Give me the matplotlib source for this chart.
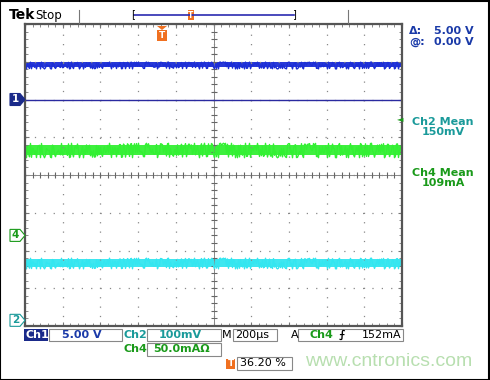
import numpy as np
import matplotlib.pyplot as plt
from matplotlib.patches import Rectangle, Polygon

# scope readings (vertical values in divisions)
channels = ['Ch1', 'Ch2', 'Ch4']
trace_colors = ['#1c2ed6', '#33f033', '#33e6f0']
trace_level = [2.92, 0.66, -2.33]
noise_half = [0.09, 0.19, 0.14]
ref_level = {'1': 2.0, '4': -1.6, '2': -3.85}
ch1_ref = 2.0

scale_labels = ['5.00 V', '100mV', '50.0mAΩ']
timebase = '200µs'
trig_level = '152mA'
trig_pos = '36.20 %'
mean_labels = ['Ch2 Mean\n150mV', 'Ch4 Mean\n109mA']

W, H = 490, 380
fig = plt.figure(figsize=(4.9, 3.8), dpi=100)
fig.patch.set_facecolor('white')


def fx(x):
    return x / W


def fy(y):
    return 1 - y / H


def ftext(x, y, s, **kw):
    kw.setdefault('fontsize', 8)
    kw.setdefault('va', 'center')
    fig.text(fx(x), fy(y), s, **kw)


def fbox(x0, y0, x1, y1, fc='none', ec='#888888', lw=0.8):
    fig.patches.append(Rectangle((fx(x0), fy(y1)), fx(x1 - x0), (y1 - y0) / H,
                                 transform=fig.transFigure, fc=fc, ec=ec, lw=lw))


# graticule
ax = fig.add_axes([fx(25), fy(326), fx(402 - 25), (326 - 24) / H])
ax.set_xlim(0, 10)
ax.set_ylim(-4, 4)
ax.set_facecolor('white')
for s in ax.spines.values():
    s.set_color('#555555')
    s.set_linewidth(1.6)
ax.set_xticks(np.arange(0, 11, 1))
ax.set_yticks(np.arange(-4, 5, 1))
ax.set_xticks(np.arange(0, 10.01, 0.2), minor=True)
ax.set_yticks(np.arange(-4, 4.01, 0.2), minor=True)
ax.tick_params(which='both', direction='in', top=True, right=True, color='#777777',
               labelbottom=False, labelleft=False)
ax.tick_params(which='major', length=3)
ax.tick_params(which='minor', length=2, width=0.6)
ax.grid(True, which='major', color='#888888', lw=0.9, ls=(0, (1, 6.5)))
ax.axhline(0, color='#888888', lw=0.7)
ax.axvline(5, color='#888888', lw=0.7)
cx = np.arange(0, 10.01, 0.2)
cy = np.arange(-4, 4.01, 0.2)
ax.plot(cx, np.zeros_like(cx), '|', color='#666666', ms=5, mew=0.8)
ax.plot(np.full_like(cy, 5), cy, '_', color='#666666', ms=5, mew=0.8)

# ch1 reference line
ax.axhline(ch1_ref, color='#2a2aa0', lw=1.0)

# traces
for col, lvl, nh in zip(trace_colors, trace_level, noise_half):
    ax.fill_between([0, 10], lvl - nh * 0.7, lvl + nh * 0.7, color=col, lw=0, alpha=0.95)
    ln, = ax.plot([0, 10], [lvl, lvl], color=col, lw=1.0)
    ln.set_sketch_params(scale=nh * 38, length=1.0, randomness=4)

# outer frame
fig.patches.append(Rectangle((0.001, 0.001), 0.997, 0.996, transform=fig.transFigure,
                             fc='none', ec='black', lw=1.5))

# top bar
ftext(9, 15, 'Tek', fontsize=10, fontweight='bold', family='DejaVu Sans')
ftext(35, 15, 'Stop', fontsize=8.5)
fig.add_artist(plt.Line2D([fx(79), fx(79)], [fy(10), fy(23)], color='#777777', lw=0.8))
fig.add_artist(plt.Line2D([fx(348), fx(348)], [fy(10), fy(23)], color='#777777', lw=0.8))
fig.add_artist(plt.Line2D([fx(134), fx(294)], [fy(15), fy(15)], color='#2a2ab0', lw=1.2))
ftext(131, 14.5, '[', fontsize=7, color='black')
ftext(292, 14.5, ']', fontsize=7, color='black')
fig.patches.append(Rectangle((fx(188), fy(20)), fx(6), 10 / H, transform=fig.transFigure,
                             fc='#f07020', ec='none'))
ftext(191, 15, 'T', fontsize=5.5, color='white', ha='center', fontweight='bold')

# trigger position marker
fig.patches.append(Polygon([(fx(157), fy(26)), (fx(167), fy(26)), (fx(162), fy(30))],
                           closed=True, transform=fig.transFigure, fc='#f07020', ec='none'))
fig.patches.append(Rectangle((fx(157), fy(41)), fx(10), 11 / H, transform=fig.transFigure,
                             fc='#f07020', ec='none'))
ftext(162, 35.5, 'T', fontsize=6.5, color='white', ha='center', fontweight='bold')

# right readouts
blue_txt = '#1a3aa8'
ftext(409, 31, 'Δ:', color=blue_txt, fontweight='bold')
ftext(434, 31, scale_labels[0], color=blue_txt, fontweight='bold')
ftext(409, 42, '@:', color=blue_txt, fontweight='bold')
ftext(434, 42, '0.00 V', color=blue_txt, fontweight='bold')
ftext(397, 119, '◄', fontsize=6, color='#1a9a1a')
ftext(443, 127, mean_labels[0], color='#1a9a9a', ha='center', fontweight='bold',
      linespacing=1.0)
ftext(443, 178, mean_labels[1], color='#1a9a1a', ha='center', fontweight='bold',
      linespacing=1.0)

# channel ground markers
marker_style = {'1': ('#1a2a8a', 'white', '#1a2a8a'),
                '4': ('white', '#1a9a1a', '#1a9a1a'),
                '2': ('white', '#1a9a9a', '#1a9a9a')}
for name, lvl in ref_level.items():
    yp = 175 - lvl * 37.75
    fc, tc, ec = marker_style[name]
    fig.patches.append(Polygon([(fx(10), fy(yp - 6)), (fx(20), fy(yp - 6)), (fx(25), fy(yp)),
                                (fx(20), fy(yp + 6)), (fx(10), fy(yp + 6))], closed=True,
                               transform=fig.transFigure, fc=fc, ec=ec, lw=0.8))
    ftext(15.5, yp, name, fontsize=7.5, color=tc, ha='center', fontweight='bold')

# bottom readouts
fig.patches.append(Rectangle((fx(24), fy(341)), fx(24), 12 / H, transform=fig.transFigure,
                             fc='#1a2a8a', ec='none'))
ftext(25, 335, channels[0], color='white', fontweight='bold')
fbox(49, 329, 122, 341)
ftext(62, 335, scale_labels[0], color=blue_txt, fontweight='bold')
ftext(124, 335, channels[1], color='#1a9a9a', fontweight='bold')
fbox(147, 329, 221, 341)
ftext(159, 335, scale_labels[1], color='#1a9a9a', fontweight='bold')
ftext(222, 335, 'M', color='black')
fbox(233, 329, 277, 341)
ftext(235, 335, timebase, color='black')
ftext(291, 335, 'A', color='black')
fbox(298, 329, 403, 341)
ftext(309, 335, channels[2], color='#1a9a1a', fontweight='bold')
ftext(339, 335, '⨍', color='black', fontweight='bold')
ftext(362, 335, trig_level, color='black')

ftext(124, 349.5, channels[2], color='#1a9a1a', fontweight='bold')
fbox(147, 343, 221, 356)
ftext(153, 349.5, scale_labels[2], color='#1a9a1a', fontweight='bold')

fig.patches.append(Rectangle((fx(226), fy(369)), fx(9), 10 / H, transform=fig.transFigure,
                             fc='#f07020', ec='none'))
ftext(230.5, 364, 'T', fontsize=6.5, color='white', ha='center', fontweight='bold')
fbox(237, 357, 292, 370)
ftext(240, 363.5, trig_pos, color='black')

ftext(305, 362, 'www.cntronics.com', fontsize=14, color='#b8dfb0',
      family='Liberation Sans')

fig.savefig('out.png', dpi=100, facecolor='white')
